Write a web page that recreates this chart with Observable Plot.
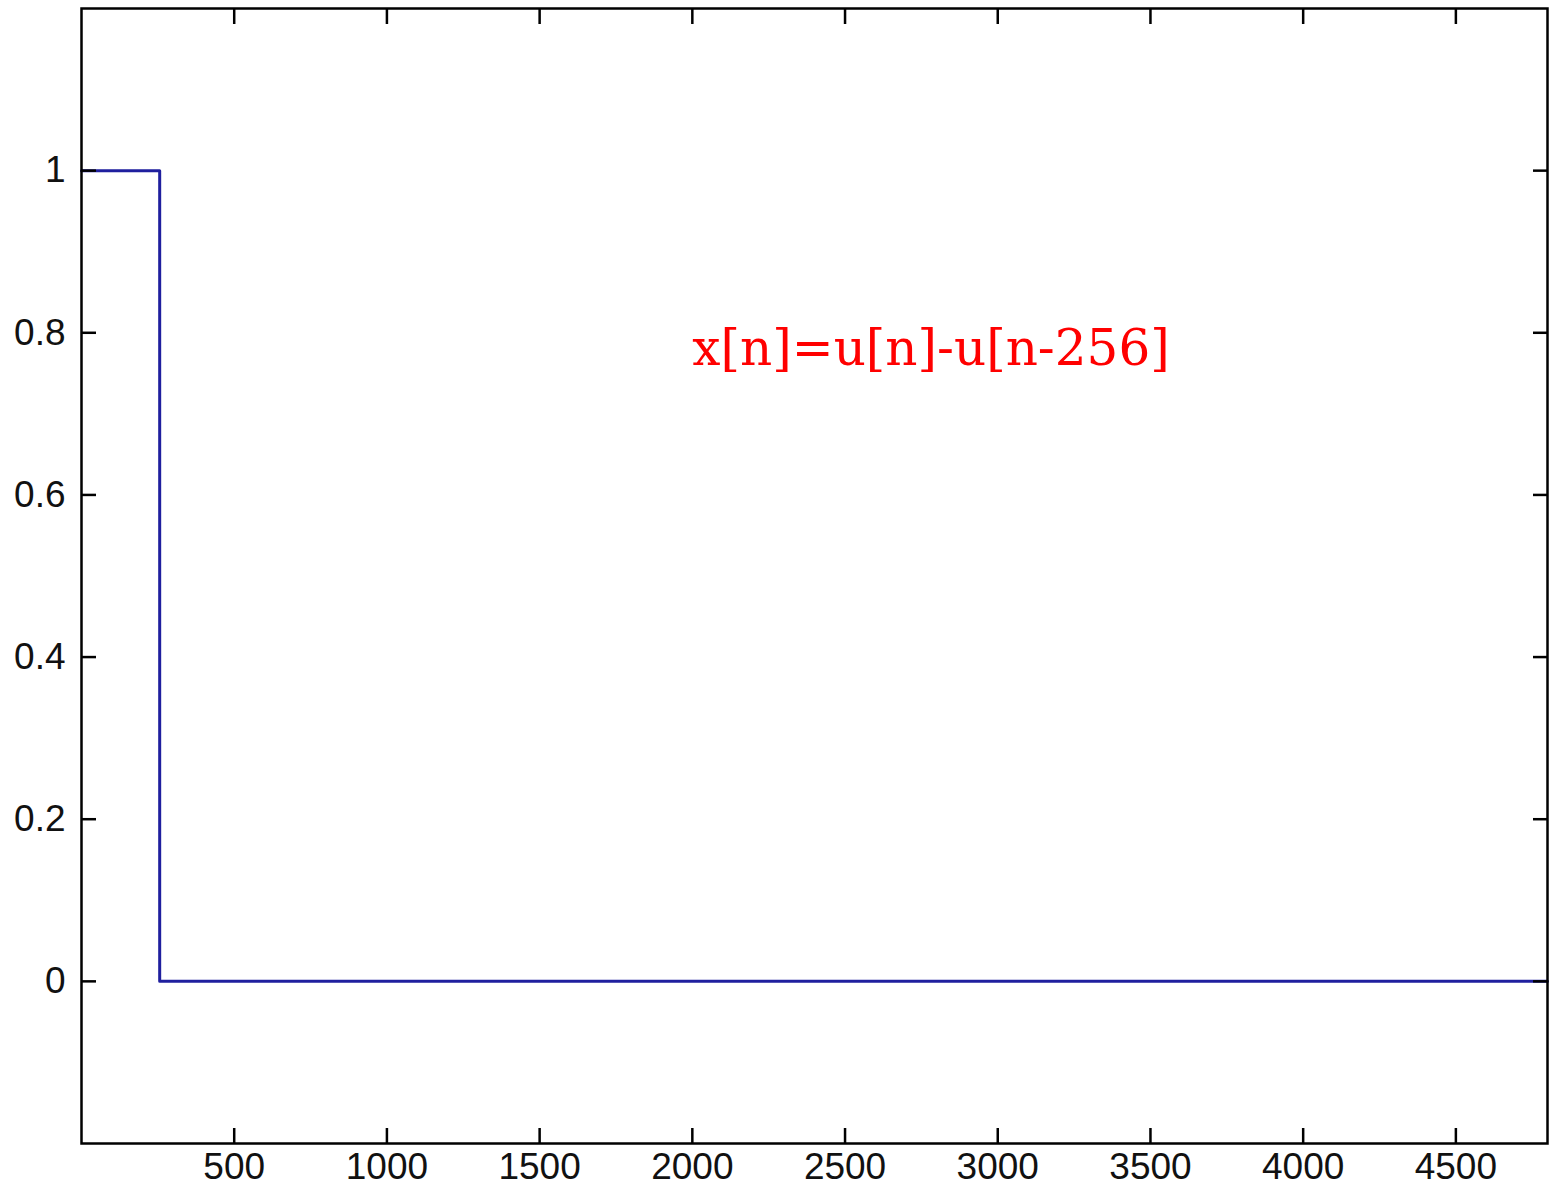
<!DOCTYPE html>
<html>
<head>
<meta charset="utf-8">
<script src="https://cdn.jsdelivr.net/npm/d3@7"></script>
<script src="https://cdn.jsdelivr.net/npm/@observablehq/plot@0.6"></script>
<style>
  html, body { margin: 0; padding: 0; background: #fff; }
</style>
</head>
<body>
<div id="chart"></div>
<script>
// Signal breakpoints: x[n] = u[n] - u[n-256]
const sampleN = [0, 256, 4800];
const signalValues = [1, 0, 0];
const xTicks = [500, 1000, 1500, 2000, 2500, 3000, 3500, 4000, 4500];
const yTicks = [0, 0.2, 0.4, 0.6, 0.8, 1];
const xDomain = [0, 4800];
const yDomain = [-0.2, 1.2];
const annotation = ["x[n]=u[n]-u[n-256]"];
const annotationAt = [{n: 2000, v: 0.78}];

const data = sampleN.map((n, i) => ({n, v: signalValues[i]}));
const tickFont = {fontSize: 37, fontFamily: "Liberation Sans, Arial, sans-serif"};

const chart = Plot.plot({
  width: 1551,
  height: 1189,
  marginLeft: 81,
  marginRight: 4,
  marginTop: 8,
  marginBottom: 46,
  style: {background: "#fff", color: "#000"},
  x: {domain: xDomain, label: null},
  y: {domain: yDomain, label: null},
  marks: [
    Plot.line(data, {x: "n", y: "v", curve: "step-after", stroke: "#1f1f9e", strokeWidth: 3}),
    Plot.text(annotationAt, {
      x: "n", y: "v", text: () => annotation[0], textAnchor: "start",
      fill: "#ff0000", fontSize: 50, fontFamily: "DejaVu Serif, serif"
    }),
    Plot.frame({stroke: "#000", strokeWidth: 2.5}),
    Plot.axisX(xTicks, {anchor: "bottom", tickSize: -15, tickPadding: 24, strokeWidth: 2.5, label: null, tickFormat: d => String(d), ...tickFont, fill: "#111"}),
    Plot.axisX(xTicks, {anchor: "top", tickSize: -15, tickFormat: () => "", strokeWidth: 2.5, label: null}),
    Plot.axisY(yTicks, {anchor: "left", tickSize: -15, tickPadding: 31, strokeWidth: 2.5, label: null, tickFormat: d => String(d), ...tickFont, fill: "#111"}),
    Plot.axisY(yTicks, {anchor: "right", tickSize: -15, tickFormat: () => "", strokeWidth: 2.5, label: null})
  ]
});
document.getElementById("chart").appendChild(chart);
</script>
</body>
</html>
